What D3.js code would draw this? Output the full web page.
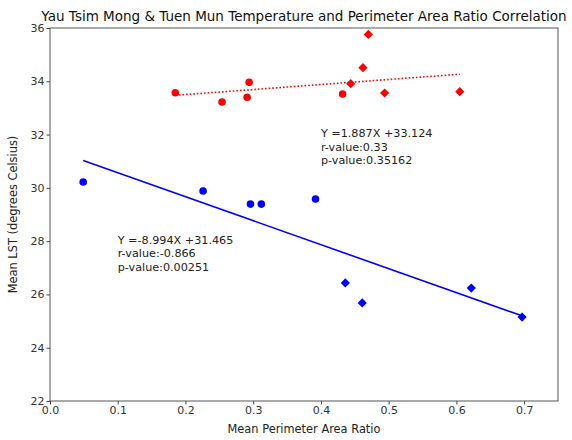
<!DOCTYPE html>
<html>
<head>
<meta charset="utf-8">
<script src="https://cdn.jsdelivr.net/npm/d3@7"></script>
<style>
  body { margin: 0; background: #fff; }
  text { font-family: "DejaVu Sans", sans-serif; }
</style>
</head>
<body>
<script>
// Yau Tsim Mong (red) / Tuen Mun (blue) points
var ytmCircleX = [0.185, 0.254, 0.291, 0.294, 0.432];
var ytmCircleY = [33.57, 33.22, 33.40, 33.96, 33.52];
var ytmDiamondX = [0.444, 0.462, 0.470, 0.494, 0.605];
var ytmDiamondY = [33.91, 34.51, 35.76, 33.56, 33.61];

var tmCircleX = [0.049, 0.226, 0.296, 0.312, 0.392];
var tmCircleY = [30.22, 29.88, 29.39, 29.39, 29.58];
var tmDiamondX = [0.436, 0.461, 0.622, 0.697];
var tmDiamondY = [26.43, 25.68, 26.24, 25.15];

// regression fits as printed on the chart
var ytmFit = { slope: 1.887, intercept: 33.124 };
var tmFit = { slope: -8.994, intercept: 31.465 };
var ytmNotes = ["Y =1.887X +33.124", "r-value:0.33", "p-value:0.35162"];
var tmNotes = ["Y =-8.994X +31.465", "r-value:-0.866", "p-value:0.00251"];

var xTicks = [0, 0.1, 0.2, 0.3, 0.4, 0.5, 0.6, 0.7];
var yTicks = [22, 24, 26, 28, 30, 32, 34, 36];

var width = 572, height = 440;
var margin = { top: 28, right: 14, bottom: 39, left: 50 };

const svg = d3.select("body").append("svg").attr("width", width).attr("height", height);

const x = d3.scaleLinear().domain([0, 0.75]).range([margin.left, width - margin.right]);
const y = d3.scaleLinear().domain([22, 36]).range([height - margin.bottom, margin.top]);

// axes
var xAxis = svg.append("g").attr("transform", "translate(0," + (height - margin.bottom) + ")")
    .call(d3.axisBottom(x).tickValues(xTicks).tickFormat(d3.format(".1f")).tickSize(3.5).tickPadding(2));
var yAxis = svg.append("g").attr("transform", "translate(" + margin.left + ",0)")
    .call(d3.axisLeft(y).tickValues(yTicks).tickFormat(d3.format("d")).tickSize(3.5).tickPadding(2));
[xAxis, yAxis].forEach(function (g) {
    g.select(".domain").remove();
    g.selectAll("line").attr("stroke", "#444");
    g.selectAll("text").attr("font-size", 11).attr("fill", "#333");
});

// frame
svg.append("rect")
    .attr("x", margin.left).attr("y", margin.top)
    .attr("width", width - margin.left - margin.right)
    .attr("height", height - margin.top - margin.bottom)
    .attr("fill", "none").attr("stroke", "#555").attr("stroke-width", 1);

function fitLine(xs, fit, color, dash) {
    var x0 = d3.min(xs), x1 = d3.max(xs);
    svg.append("line")
        .attr("x1", x(x0)).attr("y1", y(fit.slope * x0 + fit.intercept))
        .attr("x2", x(x1)).attr("y2", y(fit.slope * x1 + fit.intercept))
        .attr("stroke", color).attr("stroke-width", 1.6)
        .attr("stroke-dasharray", dash);
}

function circles(xs, ys, color) {
    svg.append("g").selectAll("circle").data(xs).enter().append("circle")
        .attr("cx", d => x(d)).attr("cy", (d, i) => y(ys[i]))
        .attr("r", 3.8).attr("fill", color);
}

function diamonds(xs, ys, color) {
    var s = 4.6;
    svg.append("g").selectAll("path").data(xs).enter().append("path")
        .attr("d", "M0," + (-s) + "L" + s + ",0L0," + s + "L" + (-s) + ",0Z")
        .attr("transform", (d, i) => "translate(" + x(d) + "," + y(ys[i]) + ")")
        .attr("fill", color);
}

function notes(lines, px, py) {
    svg.append("text").attr("x", px).attr("y", py).attr("font-size", 11.2).attr("fill", "#222")
        .selectAll("tspan").data(lines).enter().append("tspan")
        .attr("x", px).attr("dy", (d, i) => i ? 13.6 : 0).text(d => d);
}

fitLine(ytmCircleX.concat(ytmDiamondX), ytmFit, "#ff0000", "1.6,2");
fitLine(tmCircleX.concat(tmDiamondX), tmFit, "#0000ff", null);

circles(ytmCircleX, ytmCircleY, "#ff0000");
diamonds(ytmDiamondX, ytmDiamondY, "#ff0000");
circles(tmCircleX, tmCircleY, "#0000ff");
diamonds(tmDiamondX, tmDiamondY, "#0000ff");

notes(ytmNotes, x(0.4), y(31.9));
notes(tmNotes, x(0.1), y(27.9));

// title and labels
svg.append("text")
    .attr("x", (margin.left + width - margin.right) / 2).attr("y", 21)
    .attr("text-anchor", "middle").attr("font-size", 13.5).attr("fill", "#111")
    .text("Yau Tsim Mong & Tuen Mun Temperature and Perimeter Area Ratio Correlation");

svg.append("text")
    .attr("x", (margin.left + width - margin.right) / 2).attr("y", height - 7)
    .attr("text-anchor", "middle").attr("font-size", 11.4).attr("fill", "#222")
    .text("Mean Perimeter Area Ratio");

svg.append("text")
    .attr("transform", "translate(17," + (margin.top + (height - margin.bottom - margin.top) / 2) + ") rotate(-90)")
    .attr("text-anchor", "middle").attr("font-size", 11.4).attr("fill", "#222")
    .text("Mean LST (degrees Celsius)");
</script>
</body>
</html>
